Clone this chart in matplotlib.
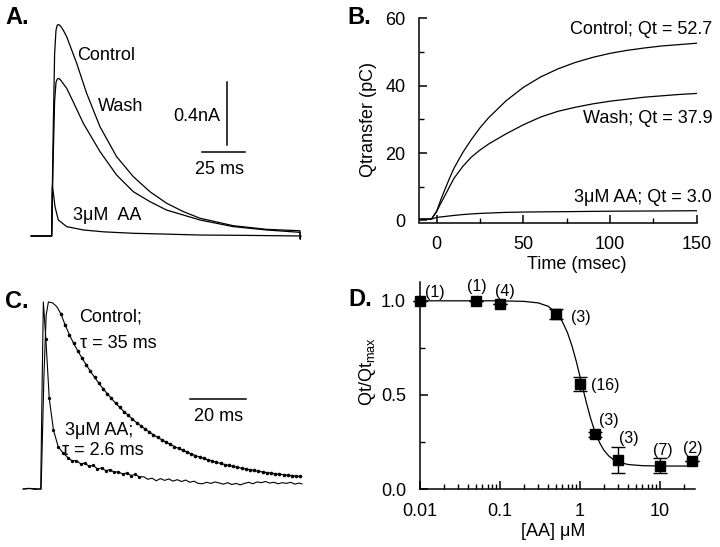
import numpy as np
import matplotlib
matplotlib.use('Agg')
import matplotlib.pyplot as plt

plt.rcParams['font.family'] = ['Liberation Sans', 'DejaVu Sans']
plt.rcParams['mathtext.fontset'] = 'custom'
plt.rcParams['mathtext.rm'] = 'Liberation Sans'
plt.rcParams['mathtext.it'] = 'Liberation Sans:italic'

# ---- panel A: raw currents (ms, nA) ----
a_ctl_t = [-12, -0.2, 0.6, 1.5, 2.3, 3.06, 4.0, 5.0, 6.5, 8.48, 11.0, 14.25, 17.0, 20.0, 27.7,
           37.3, 46.9, 56.5, 66.1, 75.8, 85.4, 104.6, 123.8, 143.1, 143.3, 143.5]
a_ctl_i = [0, 0, 0.6, 1.15, 1.30, 1.333, 1.335, 1.325, 1.30, 1.259, 1.185, 1.091, 1.0, 0.901,
           0.690, 0.501, 0.375, 0.280, 0.207, 0.154, 0.112, 0.065, 0.042, 0.033, -0.02, 0.0]
a_wash_t = [-12, -0.2, 0.6, 1.5, 2.3, 3.06, 4.0, 5.0, 6.5, 8.48, 13.0, 18.06, 27.7, 37.3, 46.9,
            56.5, 66.1, 85.4, 104.6, 123.8, 143.1, 143.3, 143.5]
a_wash_i = [0, 0, 0.45, 0.85, 0.97, 0.992, 0.995, 0.985, 0.962, 0.933, 0.83, 0.712, 0.533,
            0.385, 0.280, 0.217, 0.164, 0.101, 0.059, 0.038, 0.023, -0.02, 0.0]
a_aa_t = [-12, -0.2, 0.17, 0.9, 1.73, 3.64, 8.48, 18.06, 30.0, 46.9, 65.0, 85.4, 110.0, 143.1]
a_aa_i = [0, 0, 0.316, 0.26, 0.185, 0.101, 0.059, 0.038, 0.026, 0.017, 0.012, 0.006, 0.004, 0.0]

# ---- panel B: charge transfer (ms, pC) ----
b_t = [-10, -3, 0, 2.5, 5, 7.5, 10, 15, 20, 25, 30, 40, 50, 60, 70, 80, 90, 100, 110, 120,
       130, 140, 150]
b_ctl = [0.4, 0.4, 2.7, 6.3, 9.5, 12.6, 15.5, 20.1, 24.0, 27.5, 30.5, 35.5, 39.5, 42.6, 45.0,
         46.9, 48.4, 49.6, 50.5, 51.2, 51.8, 52.2, 52.6]
b_wash = [0.4, 0.4, 2.7, 5.2, 7.6, 10.1, 12.5, 16.0, 18.8, 20.9, 22.7, 25.7, 28.4, 30.7, 32.4,
          33.6, 34.6, 35.4, 36.0, 36.6, 37.0, 37.4, 37.7]
b_aa = [0.4, 0.4, 0.9, 1.05, 1.2, 1.35, 1.5, 1.75, 1.95, 2.1, 2.2, 2.4, 2.5, 2.55, 2.6, 2.65,
        2.7, 2.75, 2.78, 2.8, 2.83, 2.86, 2.9]
b_labels = ['Control; Qt = 52.7', 'Wash; Qt = 37.9', '3\u03bcM AA; Qt = 3.0']

# ---- panel C: normalised currents with fits (ms, normalised) ----
c_ctl_t = [-6, -3, 0, 0.4, 1.4, 2.2, 3.0, 4.5, 6.0, 7.5, 9.0, 10.5, 12.0, 13.5, 15.0, 16.5,
           18.0, 19.5, 21.0, 22.5, 24.0, 25.5, 27.0, 28.5, 30.0, 31.5, 33.0, 34.5, 36.0,
           37.5, 39.0, 40.5, 42.0, 43.5, 45.0, 46.5, 48.0, 49.5, 51.0, 52.5, 54.0, 55.5,
           57.0, 58.5, 60.0, 61.5, 63.0, 64.5, 66.0, 67.5, 69.0, 70.5, 72.0, 73.5, 75.0,
           76.5, 78.0, 79.5, 81.0, 82.5, 84.0, 85.5, 87.0, 88.5, 90.0, 91.5, 93.0]
c_ctl_v = [0, 0.003, 0, 0, 0.6, 0.93, 1.0, 0.995, 0.975, 0.935, 0.876, 0.825, 0.779, 0.738,
           0.700, 0.664, 0.629, 0.597, 0.566, 0.537, 0.510, 0.484, 0.459, 0.436, 0.414,
           0.394, 0.374, 0.355, 0.338, 0.321, 0.305, 0.290, 0.276, 0.263, 0.250, 0.239,
           0.227, 0.217, 0.207, 0.197, 0.188, 0.179, 0.171, 0.164, 0.156, 0.150, 0.143,
           0.137, 0.131, 0.126, 0.121, 0.116, 0.111, 0.107, 0.103, 0.099, 0.095, 0.091,
           0.088, 0.085, 0.082, 0.079, 0.077, 0.074, 0.072, 0.069, 0.067]
c_aa_t = [-6, -4, -2, 0, 0.25, 0.8, 1.2, 2.1, 3.3, 4.8, 6.5, 8.3, 10.0, 11.5, 13.0, 14.5,
          16.0, 17.5, 19.0, 20.5, 22.0, 23.5, 25.0, 26.5, 28.0, 29.5, 31.0, 32.5, 34.0,
          35.5, 37.0, 38.5, 40.0, 41.5, 43.0, 44.5, 46.0, 47.5, 49.0, 50.5, 52.0, 53.5,
          55.0, 56.5, 58.0, 59.5, 61.0, 62.5, 64.0, 65.5, 67.0, 68.5, 70.0, 71.5, 73.0,
          74.5, 76.0, 77.5, 79.0, 80.5, 82.0, 83.5, 85.0, 86.5, 88.0, 89.5, 91.0, 92.5, 93.5]
c_aa_v = [0, 0.004, -0.002, 0, 0, 0.6, 1.0, 0.80, 0.485, 0.316, 0.226, 0.191, 0.168, 0.150,
          0.152, 0.135, 0.138, 0.122, 0.126, 0.108, 0.112, 0.098, 0.104, 0.090, 0.092,
          0.080, 0.086, 0.072, 0.078, 0.064, 0.066, 0.052, 0.058, 0.044, 0.056, 0.046,
          0.054, 0.042, 0.050, 0.040, 0.048, 0.036, 0.042, 0.030, 0.028, 0.036, 0.030,
          0.038, 0.032, 0.026, 0.034, 0.024, 0.030, 0.022, 0.030, 0.036, 0.028, 0.038,
          0.034, 0.040, 0.032, 0.036, 0.028, 0.034, 0.030, 0.036, 0.026, 0.032, 0.027]

# ---- panel D: dose response ----
d_conc = [0.01, 0.05, 0.1, 0.5, 1.0, 1.55, 3.0, 10.0, 25.0]
d_val = [1.0, 1.0, 0.982, 0.93, 0.557, 0.290, 0.154, 0.123, 0.150]
d_err = [0, 0, 0, 0.025, 0.036, 0.012, 0.07, 0.04, 0]
d_n = ['(1)', '(1)', '(4)', '(3)', '(16)', '(3)', '(3)', '(7)', '(2)']
d_n_x = [0.0116, 0.0387, 0.0866, 0.765, 1.372, 1.742, 3.10, 8.25, 19.2]
d_n_y = [1.046, 1.074, 1.048, 0.912, 0.552, 0.366, 0.269, 0.202, 0.216]
d_fit_c = [0.01, 0.1, 0.2, 0.3, 0.4, 0.5, 0.6, 0.7, 0.8, 0.9, 1.0, 1.1, 1.2, 1.35, 1.5,
           1.65, 1.8, 2.0, 2.3, 2.6, 3.0, 4.0, 6.0, 10.0, 26.0]
d_fit_v = [1.0, 1.0, 0.997, 0.989, 0.971, 0.937, 0.891, 0.829, 0.756, 0.677, 0.598, 0.525,
           0.460, 0.379, 0.318, 0.272, 0.238, 0.205, 0.175, 0.157, 0.144, 0.130, 0.124,
           0.122, 0.122]

W, H = 720, 547
fig = plt.figure(figsize=(W / 100, H / 100), dpi=100)


def add_ax(x0, y0, x1, y1):
    return fig.add_axes([x0 / W, 1 - y1 / H, (x1 - x0) / W, (y1 - y0) / H])


def ftext(x, y, s, **kw):
    fig.text(x / W, 1 - y / H, s, **kw)


lw = 0.9
fs = 13

# panel A
axA = add_ax(30, 15, 310, 245)
axA.set_xlim(-12.7, 148.9)
axA.set_ylim(-0.057, 1.396)
axA.axis('off')
axA.plot(a_ctl_t, a_ctl_i, color='k', lw=lw)
axA.plot(a_wash_t, a_wash_i, color='k', lw=lw)
axA.plot(a_aa_t, a_aa_i, color='k', lw=lw)
axA.plot([100.8, 100.8], [0.575, 0.975], color='k', lw=1.1)
axA.plot([86.4, 111.4], [0.533, 0.533], color='k', lw=1.1)
axA.text(14.4, 1.143, 'Control', fontsize=fs, va='center')
axA.text(26.5, 0.818, 'Wash', fontsize=fs, va='center')
axA.text(96.9, 0.752, '0.4nA', fontsize=fs, va='center', ha='right')
axA.text(96.4, 0.42, '25 ms', fontsize=fs, va='center', ha='center')
axA.text(12.1, 0.13, '3\u03bcM  AA', fontsize=fs, va='center')

# panel B
axB = add_ax(419.3, 18.3, 696.7, 222.5)
axB.plot(b_t, b_ctl, color='k', lw=lw)
axB.plot(b_t, b_wash, color='k', lw=lw)
axB.plot(b_t, b_aa, color='k', lw=lw)
axB.set_xlim(-10, 150)
axB.set_ylim(-0.6, 60)
axB.set_xticks([0, 50, 100, 150])
axB.set_xticks([25, 75, 125], minor=True)
axB.set_yticks([0, 20, 40, 60])
axB.set_yticks([10, 30, 50], minor=True)
for y, s in zip([56.7, 30.3, 6.8], b_labels):
    axB.text(158.9, y, s, fontsize=fs, ha='right', va='center', clip_on=False)
axB.set_xlabel('Time (msec)', fontsize=fs)
axB.set_ylabel('Qtransfer (pC)', fontsize=fs)
axB.xaxis.set_label_coords(0.568, -0.165)
axB.yaxis.set_label_coords(-0.152, 0.502)

# panel C
axC = add_ax(20, 290, 310, 495)
axC.set_xlim(-7.14, 96.4)
axC.set_ylim(-0.032, 1.064)
axC.axis('off')
axC.plot(c_aa_t, c_aa_v, color='k', lw=0.8)
axC.plot(c_ctl_t, c_ctl_v, color='k', lw=0.8)
ct = np.array(c_ctl_t)
cv = np.array(c_ctl_v)
m = ct >= 7.5
axC.plot(ct[m], cv[m], 'o', color='k', ms=2.6, mec='none')
at = np.array(c_aa_t)
av = np.array(c_aa_v)
m2 = (at >= 2.0) & (at <= 36)
axC.plot(at[m2], av[m2], 'o', color='k', ms=2.4, mec='none')
axC.plot([53.6, 73.6], [0.481, 0.481], color='k', lw=1.1)
axC.text(63.9, 0.39, '20 ms', fontsize=fs, ha='center', va='center')
axC.text(13.9, 0.92, 'Control;', fontsize=fs, va='center')
axC.text(14.3, 0.78, '\u03c4 = 35 ms', fontsize=fs, va='center')
axC.text(8.9, 0.315, '3\u03bcM AA;', fontsize=fs, va='center')
axC.text(7.9, 0.205, '\u03c4 = 2.6 ms', fontsize=fs, va='center')

# panel D
axD = add_ax(420, 282, 695, 489)
axD.set_xscale('log')
axD.plot(d_fit_c, d_fit_v, color='k', lw=lw)
axD.errorbar(d_conc, d_val, yerr=d_err, fmt='s', color='k', ms=7, capsize=5,
             elinewidth=1, capthick=1, clip_on=False, zorder=3)
for x, y, s in zip(d_n_x, d_n_y, d_n):
    axD.text(x, y, s, fontsize=11.5, va='center', ha='left')
axD.set_xlim(0.01, 27.4)
axD.set_ylim(0, 1.1)
axD.set_xticks([0.01, 0.1, 1, 10])
axD.set_xticklabels(['0.01', '0.1', '1', '10'])
axD.set_yticks([0, 0.5, 1.0])
axD.set_yticklabels(['0.0', '0.5', '1.0'])
axD.set_yticks([0.25, 0.75], minor=True)
axD.set_xlabel('[AA] \u03bcM', fontsize=fs)
axD.set_ylabel(r'Qt/Qt$_{\mathrm{max}}$', fontsize=fs)
axD.xaxis.set_label_coords(0.484, -0.165)
axD.yaxis.set_label_coords(-0.153, 0.565)

for ax in (axB, axD):
    for side in ('top', 'right'):
        ax.spines[side].set_visible(False)
    for side in ('left', 'bottom'):
        ax.spines[side].set_linewidth(1.1)
    ax.tick_params(which='major', direction='in', length=6, width=1.1, labelsize=fs, pad=10)
    ax.tick_params(which='minor', direction='in', length=3.5, width=1.0)

# panel letters
for x, y, s in [(5, 17, 'A.'), (347, 17, 'B.'), (5, 302, 'C.'), (348, 300, 'D.')]:
    ftext(x, y, s, fontsize=17, fontweight='bold', va='center', ha='left')

fig.savefig('out.png', dpi=100)
